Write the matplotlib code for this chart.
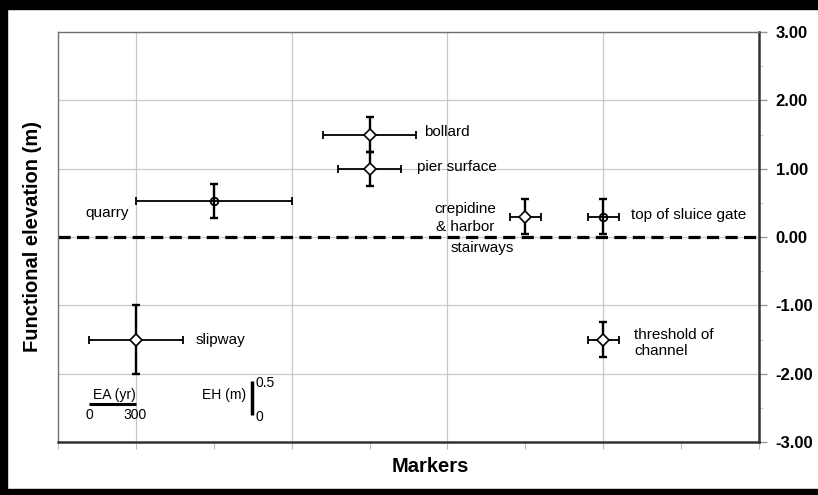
import matplotlib
matplotlib.use("Agg")
import matplotlib.pyplot as plt
from matplotlib.patches import Rectangle
from matplotlib.ticker import MultipleLocator, FixedLocator

plt.rcParams['font.family'] = ['Liberation Sans', 'DejaVu Sans']

# Archaeological sea-level markers: age (yr) vs functional elevation (m)
names = ["quarry", "slipway", "bollard", "pier surface",
         "crepidine & harbor stairways", "top of sluice gate",
         "threshold of channel"]
age = [1000, 500, 2000, 2000, 3000, 3500, 3500]
age_err = [500, 300, 300, 200, 100, 100, 100]
elev = [0.53, -1.5, 1.5, 1.0, 0.3, 0.3, -1.5]
elev_err = [0.25, 0.5, 0.25, 0.25, 0.25, 0.25, 0.25]
symbols = ["o", "D", "D", "D", "D", "o", "D"]

y_ticks = [-3, -2, -1, 0, 1, 2, 3]
y_tick_labels = [f"{v:.2f}" for v in y_ticks]

W, H = 818, 495
fig = plt.figure(figsize=(W / 100, H / 100), dpi=100)
fig.patch.set_facecolor("white")

# black frame around the figure
fig.patches.append(Rectangle((0, 0), 7 / W, 1, transform=fig.transFigure, color="black", zorder=-1))
fig.patches.append(Rectangle((0, 1 - 9 / H), 1, 9 / H, transform=fig.transFigure, color="black", zorder=-1))
fig.patches.append(Rectangle((0, 0), 1, 6 / H, transform=fig.transFigure, color="black", zorder=-1))

ax = fig.add_axes([58 / W, (H - 442) / H, (759 - 58) / W, (442 - 32) / H])
ax.set_xlim(0, 4500)
ax.set_ylim(-3, 3)

# grid
ax.xaxis.set_major_locator(FixedLocator([500, 1500, 2500, 3500]))
ax.xaxis.set_minor_locator(MultipleLocator(500))
ax.yaxis.set_major_locator(FixedLocator(y_ticks))
ax.yaxis.set_minor_locator(MultipleLocator(0.5))
ax.grid(True, which="major", color="#c8c8c8", lw=0.9, zorder=0)
ax.set_axisbelow(True)

# reference level
ax.axhline(0, color="black", lw=2.3, dashes=(3.8, 2.0), zorder=2)

# error bars
ax.errorbar(age, elev, xerr=age_err, fmt="none", ecolor="black",
            elinewidth=1.3, capsize=3, capthick=1.3, zorder=3)
ax.errorbar(age, elev, yerr=elev_err, fmt="none", ecolor="black",
            elinewidth=1.7, capsize=3, capthick=1.7, zorder=3)

for x, y, s in zip(age, elev, symbols):
    if s == "o":
        ax.plot(x, y, marker="o", ms=5.5, mfc="none", mec="black", mew=1.3, zorder=4)
    else:
        ax.plot(x, y, marker="D", ms=5.8, mfc="white", mec="black", mew=1.2, zorder=4)

# point labels
lab = dict(fontsize=11, color="black", va="center", zorder=5)
ax.text(173, 0.35, "quarry", ha="left", **lab)
ax.text(886, -1.51, "slipway", ha="left", **lab)
ax.text(2349, 1.54, "bollard", ha="left", **lab)
ax.text(2304, 1.02, "pier surface", ha="left", **lab)
ax.text(2612, 0.28, "crepidine\n& harbor", ha="center", linespacing=1.35, **lab)
ax.text(2522, -0.16, "stairways", ha="left", **lab)
ax.text(3678, 0.32, "top of sluice gate", ha="left", **lab)
ax.text(3697, -1.55, "threshold of\nchannel", ha="left", linespacing=1.25, **lab)

# error scale keys
small = dict(fontsize=10, color="black", va="center", zorder=5)
ax.plot([200, 500], [-2.45, -2.45], color="black", lw=2.2, solid_capstyle="butt")
ax.text(363, -2.31, "EA (yr)", ha="center", **small)
ax.text(199, -2.60, "0", ha="center", **small)
ax.text(494, -2.60, "300", ha="center", **small)
ax.plot([1245, 1245], [-2.1, -2.6], color="black", lw=2.5, solid_capstyle="butt")
ax.text(1065, -2.31, "EH (m)", ha="center", **small)
ax.text(1271, -2.14, "0.5", ha="left", **small)
ax.text(1271, -2.63, "0", ha="left", **small)

# spines
for side in ("left", "top"):
    ax.spines[side].set_color("#707070")
    ax.spines[side].set_linewidth(1.0)
for side in ("right", "bottom"):
    ax.spines[side].set_color("#333333")
    ax.spines[side].set_linewidth(1.8)

# ticks
ax.yaxis.tick_right()
ax.set_yticklabels(y_tick_labels, fontsize=12, fontweight="bold")
ax.tick_params(axis="y", which="major", direction="out", length=6, width=1.0,
               color="#999999", pad=6, right=True, left=False)
ax.tick_params(axis="y", which="minor", direction="out", length=3, width=0.8,
               color="#cccccc", right=True, left=False)
ax.tick_params(axis="x", which="both", direction="out", length=5, width=0.8,
               color="#bbbbbb", labelbottom=False, top=False)

fig.text(33 / W, 1 - 237 / H, "Functional elevation (m)", rotation=90,
         fontsize=14.5, fontweight="bold", ha="center", va="center")
fig.text(430 / W, 1 - 466 / H, "Markers", fontsize=14.5, fontweight="bold",
         ha="center", va="center")

fig.savefig("out.png", dpi=100, facecolor="white")
